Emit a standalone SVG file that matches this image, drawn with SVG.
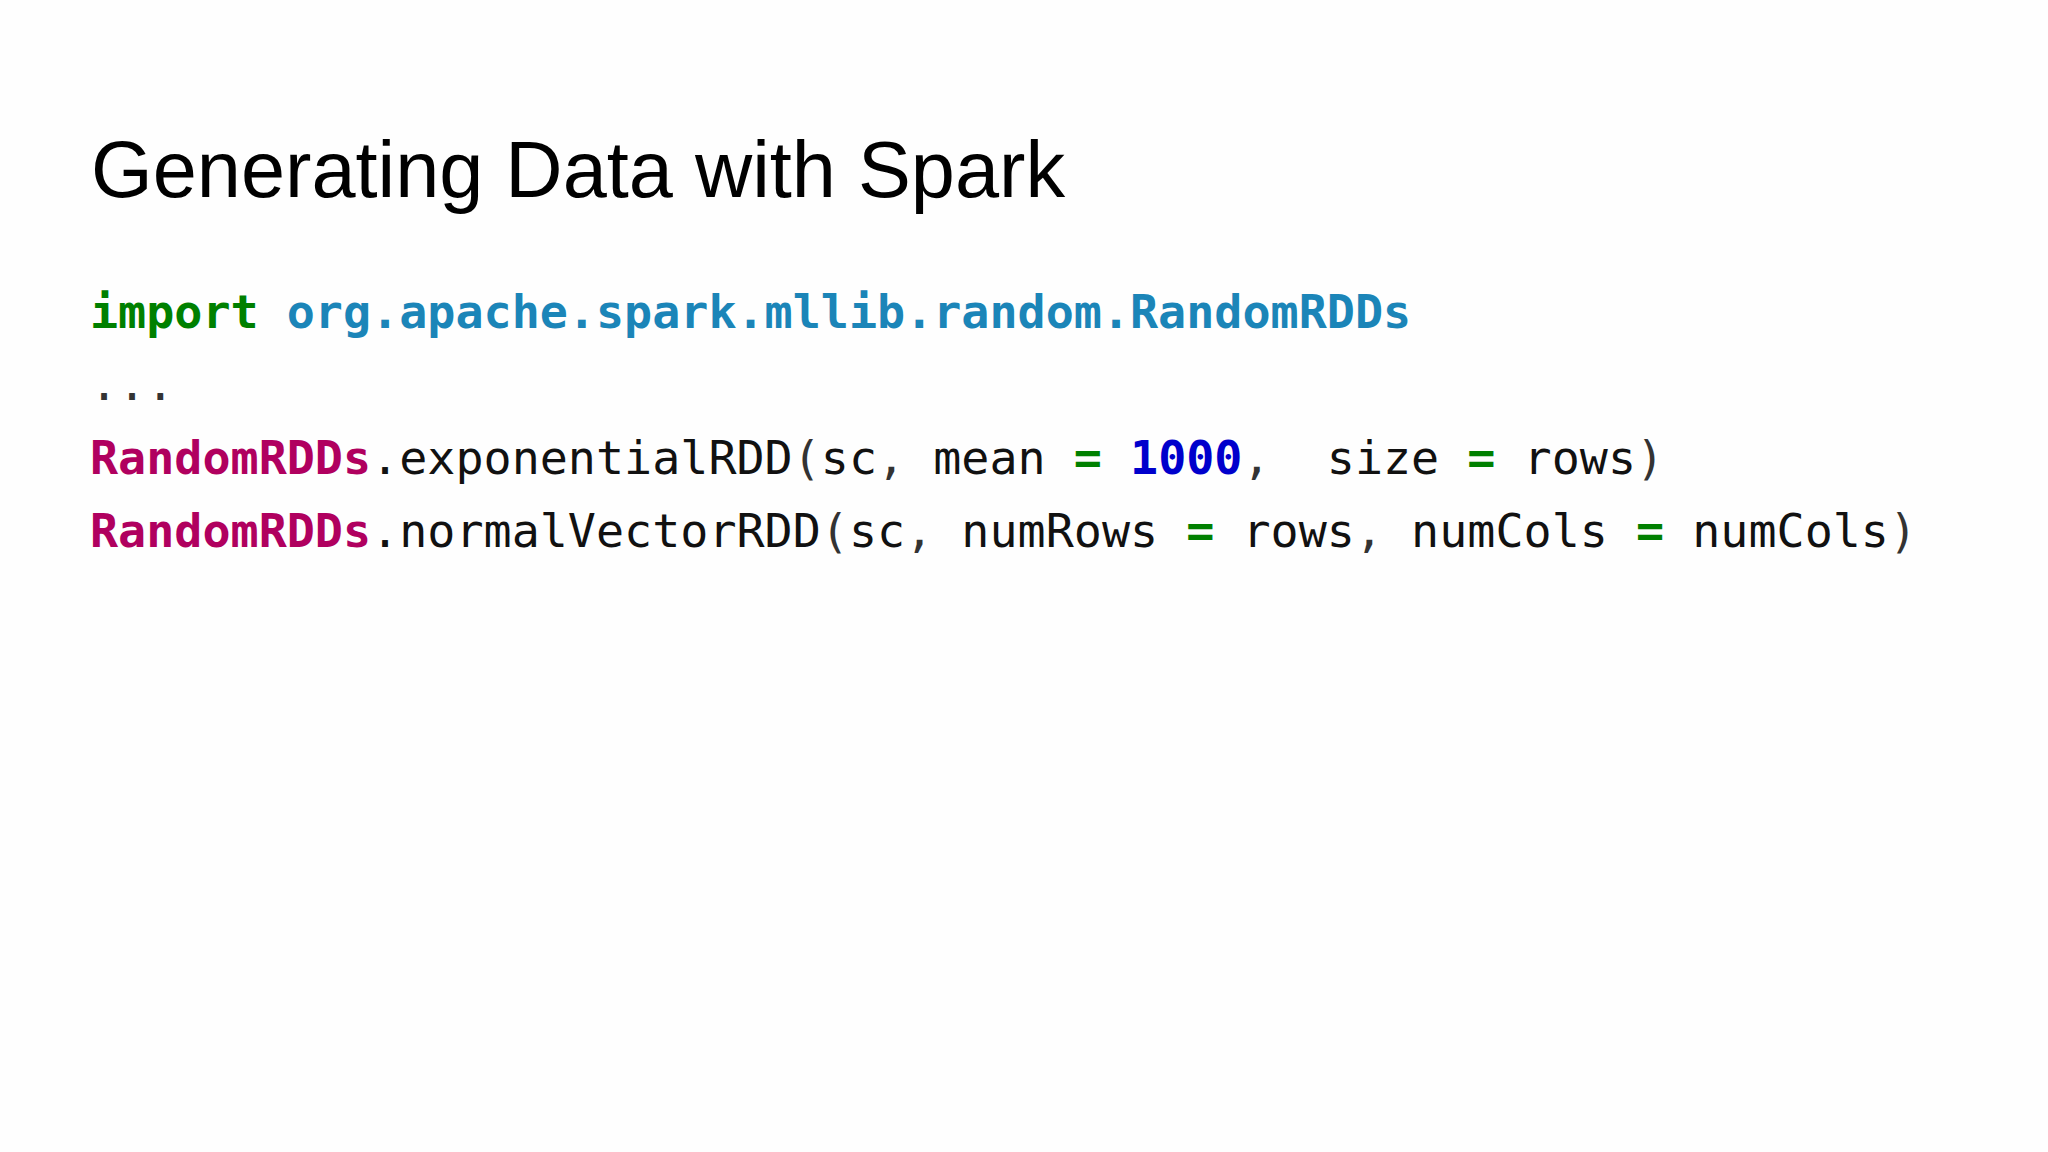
<svg xmlns="http://www.w3.org/2000/svg" width="2048" height="1152" viewBox="0 0 2048 1152">
<style>
.title{font-family:"Liberation Sans",Arial,sans-serif;font-size:79.3px;fill:#000}
.code{font-family:"DejaVu Sans Mono","Liberation Mono",monospace;font-size:46.7px;fill:#111;white-space:pre}
.kw{fill:#008000;font-weight:bold}
.pkg{fill:#1b85b8;font-weight:bold}
.cls{fill:#b0005f;font-weight:bold}
.op{fill:#008000;font-weight:bold}
.num{fill:#0000cc;font-weight:bold}
.p{fill:#333}
</style>
<rect width="2048" height="1152" fill="#fefefe"/>
<g id="title"><text class="title" x="91" y="197">Generating Data with Spark</text></g>
<g id="code">
<text class="code" x="90" y="328" xml:space="preserve"><tspan class="kw">import</tspan> <tspan class="pkg">org.apache.spark.mllib.random.RandomRDDs</tspan></text>
<text class="code p" x="90" y="400" xml:space="preserve">...</text>
<text class="code" x="90" y="474" xml:space="preserve"><tspan class="cls">RandomRDDs</tspan>.exponentialRDD<tspan class="p">(</tspan>sc<tspan class="p">,</tspan> mean <tspan class="op">=</tspan> <tspan class="num">1000</tspan><tspan class="p">,</tspan>  size <tspan class="op">=</tspan> rows<tspan class="p">)</tspan></text>
<text class="code" x="90" y="547" xml:space="preserve"><tspan class="cls">RandomRDDs</tspan>.normalVectorRDD<tspan class="p">(</tspan>sc<tspan class="p">,</tspan> numRows <tspan class="op">=</tspan> rows<tspan class="p">,</tspan> numCols <tspan class="op">=</tspan> numCols<tspan class="p">)</tspan></text>
</g>
</svg>
